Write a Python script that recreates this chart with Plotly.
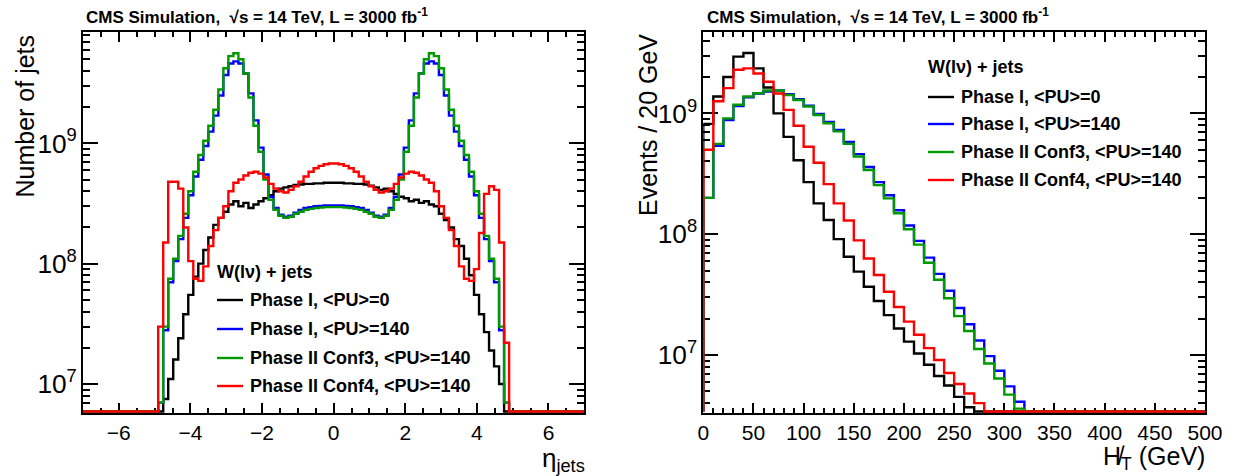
import numpy as np
import plotly.graph_objects as go

# ---------------- data: left panel (jet eta), 100 bins on [-7, 7] ----------------
ETA_RANGE = (-7.0, 7.0)
ETA_NBINS = 100
ETA_FIRST = 15          # index of first non-empty bin
ETA_SCALE = 1e8         # values below are in units of 1e8 jets

eta_phase1_pu0 = [
    0, 0.075, 0.11, 0.16, 0.24, 0.38, 0.55, 0.78, 1.0, 1.3,
    1.65, 2.1, 2.4, 2.7, 3.1, 3.3, 3.0, 3.2, 2.9, 3.1,
    3.3, 3.5, 3.7, 4.0, 4.2, 4.3, 4.4, 4.5, 4.55, 4.6,
    4.6, 4.65, 4.65, 4.7, 4.7, 4.7, 4.7, 4.65, 4.65, 4.6,
    4.6, 4.55, 4.45, 4.3, 4.1, 4.2, 4.0, 3.8, 3.6, 3.5,
    3.3, 3.4, 3.2, 3.3, 3.1, 3.0, 2.6, 2.3, 2.0, 1.6,
    1.4, 1.1, 0.8, 0.55, 0.38, 0.27, 0.19, 0.14, 0.10, 0]
eta_phase1_pu140 = [
    0.07, 0.28, 0.7, 1.05, 1.6, 2.4, 3.7, 5.3, 7.3, 9.5,
    12.5, 17, 25, 37, 46, 48, 46, 38, 26, 15.5,
    9.2, 5.5, 3.6, 2.9, 2.55, 2.45, 2.5, 2.65, 2.8, 2.9,
    2.95, 3.0, 3.02, 3.05, 3.05, 3.05, 3.05, 3.02, 3.0, 2.95,
    2.9, 2.8, 2.65, 2.5, 2.45, 2.55, 2.9, 3.6, 5.5, 9.2,
    15.5, 26, 38, 46, 48, 46, 37, 25, 17, 12.5,
    9.5, 7.3, 5.3, 3.7, 2.4, 1.6, 1.05, 0.7, 0.28, 0.07]
eta_conf3_pu140 = [
    0.07, 0.3, 0.75, 1.1, 1.7, 2.6, 4.0, 5.8, 8.0, 10.5,
    14, 19, 28, 42, 53, 56, 50, 38, 24, 14,
    8.5, 5.0, 3.4, 2.8, 2.5, 2.4, 2.45, 2.6, 2.7, 2.8,
    2.85, 2.9, 2.92, 2.95, 2.95, 2.95, 2.95, 2.92, 2.9, 2.85,
    2.8, 2.7, 2.6, 2.45, 2.4, 2.5, 2.8, 3.4, 5.0, 8.5,
    14, 24, 38, 50, 56, 53, 42, 28, 19, 14,
    10.5, 8.0, 5.8, 4.0, 2.6, 1.7, 1.1, 0.75, 0.3, 0.07]
eta_conf4_pu140 = [
    0.3, 1.5, 4.8, 4.8, 4.2, 2.0, 1.05, 0.75, 0.72, 0.95,
    1.4, 1.9, 2.4, 3.0, 4.0, 4.7, 5.0, 5.4, 5.7, 5.8,
    5.6, 5.2, 4.6, 4.2, 4.0, 3.9, 4.1, 4.4, 4.8, 5.3,
    5.8, 6.2, 6.5, 6.7, 6.8, 6.8, 6.7, 6.5, 6.2, 5.8,
    5.3, 4.8, 4.4, 4.1, 3.9, 4.0, 4.2, 4.6, 5.2, 5.6,
    5.8, 5.7, 5.4, 5.0, 4.7, 4.0, 3.0, 2.4, 1.9, 1.4,
    0.95, 0.75, 0.72, 0.9, 1.8, 3.8, 4.4, 4.1, 1.5, 0.22]

# ---------------- data: right panel (missing HT), 10 GeV bins on [0, 500] ----------------
MHT_RANGE = (0.0, 500.0)
MHT_NBINS = 50
mht_phase1_pu0 = [
    8.2e8, 1.38e9, 2.0e9, 2.95e9, 3.16e9, 2.36e9, 1.64e9, 1.0e9, 6.4e8, 4.1e8,
    2.7e8, 1.8e8, 1.31e8, 9.1e7, 6.5e7, 4.9e7, 3.67e7, 2.8e7, 2.14e7, 1.66e7,
    1.29e7, 1.03e7, 8.3e6, 6.7e6, 5.6e6, 4.5e6, 3.7e6]
mht_phase1_pu140 = [
    2.0e8, 5.4e8, 8.8e8, 1.15e9, 1.36e9, 1.46e9, 1.52e9, 1.55e9, 1.44e9, 1.31e9,
    1.16e9, 9.9e8, 8.5e8, 7.3e8, 5.8e8, 4.6e8, 3.6e8, 2.7e8, 2.1e8, 1.58e8,
    1.18e8, 8.8e7, 6.4e7, 4.7e7, 3.4e7, 2.45e7, 1.8e7, 1.32e7, 9.8e6, 7.4e6,
    5.5e6, 4.1e6]
mht_conf3_pu140 = [
    2.0e8, 5.6e8, 9.1e8, 1.18e9, 1.38e9, 1.47e9, 1.55e9, 1.55e9, 1.42e9, 1.29e9,
    1.14e9, 9.7e8, 8.3e8, 7.1e8, 5.6e8, 4.4e8, 3.4e8, 2.55e8, 1.98e8, 1.49e8,
    1.1e8, 8.2e7, 5.8e7, 4.2e7, 2.95e7, 2.1e7, 1.58e7, 1.12e7, 8.5e6, 6.4e6,
    4.7e6, 3.6e6]
mht_conf4_pu140 = [
    5.0e8, 1.26e9, 1.62e9, 2.3e9, 2.36e9, 2.14e9, 1.83e9, 1.46e9, 1.07e9, 7.9e8,
    5.3e8, 3.9e8, 2.6e8, 1.8e8, 1.3e8, 8.9e7, 6.3e7, 4.6e7, 3.34e7, 2.5e7,
    1.89e7, 1.47e7, 1.14e7, 9.1e6, 7.1e6, 5.76e6, 4.8e6, 4.0e6]

series_names = ["Phase I, &lt;PU&gt;=0", "Phase I, &lt;PU&gt;=140",
                "Phase II Conf3, &lt;PU&gt;=140", "Phase II Conf4, &lt;PU&gt;=140"]
series_colors = ["#000000", "#0000ff", "#009a00", "#ff0000"]
header_text = "W(l\u03bd) + jets"
title_text = "CMS Simulation,  \u221as = 14 TeV, L = 3000 fb<sup>-1</sup>"

# log10 axis ranges
LEFT_YRANGE = (6.759, 9.925)
RIGHT_YRANGE = (6.52, 9.674)

# ---------------- layout geometry (pixels) ----------------
W, H = 1234, 476
ML, MR, MT, MB = 83, 29, 32, 63
PW, PH = W - ML - MR, H - MT - MB
LEFT_X1 = 584.3
RIGHT_X0 = 703.3

def px(x):
    return (x - ML) / PW

def py(y):
    return (H - MB - y) / PH

FONT = "Liberation Sans, Arial, Helvetica, sans-serif"

fig = go.Figure()

def add_hist(edges, vals, floor, color, xa, ya):
    v = np.asarray(vals, dtype=float)
    y = np.where(v > 0, v, floor)
    xs = np.concatenate([[edges[0]], edges])
    ys = np.concatenate([[floor], y, [y[-1]]])
    fig.add_trace(go.Scatter(x=xs, y=ys, mode="lines", line=dict(color=color, width=2.4, shape="hv"),
                             xaxis=xa, yaxis=ya, showlegend=False, hoverinfo="skip"))

eta_edges = np.linspace(ETA_RANGE[0], ETA_RANGE[1], ETA_NBINS + 1)
mht_edges = np.linspace(MHT_RANGE[0], MHT_RANGE[1], MHT_NBINS + 1)
left_floor = 10 ** (LEFT_YRANGE[0] + 0.012)
right_floor = 10 ** (RIGHT_YRANGE[0] + 0.012)

for arr, col in zip([eta_phase1_pu0, eta_phase1_pu140, eta_conf3_pu140, eta_conf4_pu140], series_colors):
    full = np.zeros(ETA_NBINS)
    full[ETA_FIRST:ETA_FIRST + len(arr)] = np.asarray(arr) * ETA_SCALE
    add_hist(eta_edges, full, left_floor, col, "x", "y")

for arr, col in zip([mht_phase1_pu0, mht_phase1_pu140, mht_conf3_pu140, mht_conf4_pu140], series_colors):
    full = np.zeros(MHT_NBINS)
    full[:len(arr)] = arr
    add_hist(mht_edges, full, right_floor, col, "x2", "y2")

axis_common = dict(showline=True, linecolor="black", linewidth=2, mirror="allticks",
                   ticks="inside", tickwidth=2, tickcolor="black", showgrid=False, zeroline=False,
                   tickfont=dict(family=FONT, size=21, color="black"), layer="below traces")

fig.update_layout(
    width=W, height=H, margin=dict(l=ML, r=MR, t=MT, b=MB),
    paper_bgcolor="white", plot_bgcolor="white", showlegend=False,
    xaxis=dict(domain=[0, px(LEFT_X1)], range=list(ETA_RANGE), dtick=2, tick0=0, ticklen=10,
               minor=dict(dtick=0.5, ticks="inside", ticklen=5, tickwidth=2, tickcolor="black"),
               anchor="y", **axis_common),
    yaxis=dict(type="log", range=list(LEFT_YRANGE), dtick=1, ticklen=15, exponentformat="power",
               minor=dict(dtick="D1", ticks="inside", ticklen=7, tickwidth=2, tickcolor="black"),
               anchor="x", **axis_common),
    xaxis2=dict(domain=[px(RIGHT_X0), 1], range=list(MHT_RANGE), dtick=50, tick0=0, ticklen=10,
                minor=dict(dtick=10, ticks="inside", ticklen=5, tickwidth=2, tickcolor="black"),
                anchor="y2", **axis_common),
    yaxis2=dict(type="log", range=list(RIGHT_YRANGE), dtick=1, ticklen=15, exponentformat="power",
                minor=dict(dtick="D1", ticks="inside", ticklen=7, tickwidth=2, tickcolor="black"),
                anchor="x2", **axis_common),
)

ann = []
def text(x, y, s, size, xanchor="left", yanchor="middle", angle=0, bold=False):
    ann.append(dict(x=px(x), y=py(y), xref="paper", yref="paper", text=("<b>%s</b>" % s) if bold else s,
                    showarrow=False, xanchor=xanchor, yanchor=yanchor, textangle=angle,
                    font=dict(family=FONT, size=size, color="black")))

# titles
text(84, 16, title_text, 17, bold=True)
text(705, 16, title_text, 17, bold=True)
# axis titles
text(25, 33, "Number of jets", 25, xanchor="center", yanchor="top", angle=-90)
text(648, 32, "Events / 20 GeV", 25, xanchor="center", yanchor="top", angle=-90)
text(587, 441, "\u03b7<sub>jets</sub>", 26, xanchor="right", yanchor="top")
text(1207, 458, "H\u0338<sub>T</sub> (GeV)", 25, xanchor="right")

# legends
shapes = []
def legend(x_head, y_head, x_line0, x_line1, x_text, ys):
    text(x_head, y_head, header_text, 18, bold=True)
    for yy, name, col in zip(ys, series_names, series_colors):
        shapes.append(dict(type="line", xref="paper", yref="paper", x0=px(x_line0), x1=px(x_line1),
                           y0=py(yy), y1=py(yy), line=dict(color=col, width=2.4)))
        text(x_text, yy, name, 18, bold=True)

legend(215, 272, 217, 243, 248, [300, 329, 358, 386])
legend(926, 67, 928, 954, 959, [97, 124, 152, 180])

fig.update_layout(annotations=ann, shapes=shapes)
fig.write_html("out.html")
